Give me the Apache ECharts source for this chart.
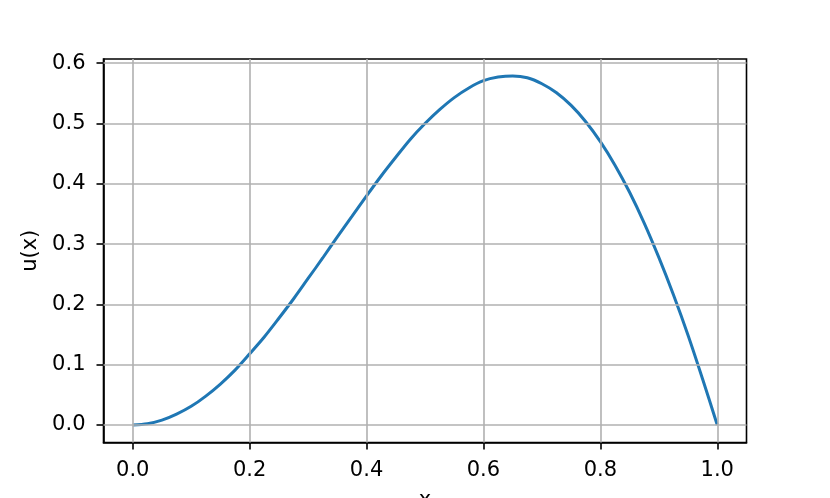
<!DOCTYPE html>
<html>
<head>
<meta charset="utf-8">
<script src="https://cdn.jsdelivr.net/npm/echarts@6/dist/echarts.min.js"></script>
<style>
  html, body { margin: 0; padding: 0; background: #ffffff; }
  #chart { width: 830px; height: 498px; }
</style>
</head>
<body>
<div id="chart"></div>
<script>
// values
const xValues = [0, 0.025, 0.05, 0.075, 0.1, 0.125, 0.15, 0.175, 0.2, 0.225,
                 0.25, 0.275, 0.3, 0.325, 0.35, 0.375, 0.4, 0.425, 0.45, 0.475,
                 0.5, 0.525, 0.55, 0.575, 0.6, 0.625, 0.65, 0.675, 0.7, 0.725,
                 0.75, 0.775, 0.8, 0.825, 0.85, 0.875, 0.9, 0.925, 0.95, 0.975, 1.0]
const uValues = [0, 0.002, 0.008, 0.018, 0.031, 0.048, 0.068, 0.091, 0.118, 0.146,
                 0.177, 0.209, 0.243, 0.277, 0.312, 0.346, 0.380, 0.413, 0.444, 0.474,
                 0.500, 0.523, 0.543, 0.559, 0.571, 0.577, 0.579, 0.576, 0.566, 0.551,
                 0.530, 0.503, 0.470, 0.431, 0.386, 0.335, 0.278, 0.216, 0.149, 0.076, 0]
const xTicks = [0, 0.2, 0.4, 0.6, 0.8, 1.0]
const yTicks = [0, 0.1, 0.2, 0.3, 0.4, 0.5, 0.6]

const font = 'DejaVu Sans'
const gridColor = '#b0b0b0'

const chart = echarts.init(document.getElementById('chart'))

const axisCommon = {
  type: 'value',
  axisLine: { show: true, onZero: false, lineStyle: { color: '#000', width: 1.6 } },
  axisTick: { show: true, inside: false, length: 7, lineStyle: { color: '#000', width: 1.6 } },
  splitLine: { show: false },
  nameTextStyle: { color: '#000', fontFamily: font, fontSize: 21 }
}

const option = {
  animation: false,
  backgroundColor: '#ffffff',
  grid: {
    left: 103.5, right: 83.5, top: 59, bottom: 55.5,
    outerBoundsMode: 'none',
    show: true, borderColor: '#000', borderWidth: 1.6, backgroundColor: '#ffffff'
  },
  xAxis: {
    ...axisCommon,
    min: -0.05,
    max: 1.05,
    name: 'x',
    nameLocation: 'middle',
    nameGap: 48,
    axisTick: { ...axisCommon.axisTick, customValues: xTicks },
    axisLabel: {
      customValues: xTicks,
      margin: 18,
      color: '#000', fontFamily: font, fontSize: 21,
      formatter: v => v.toFixed(1)
    }
  },
  yAxis: {
    ...axisCommon,
    min: -0.029,
    max: 0.607,
    name: 'u(x)',
    nameLocation: 'middle',
    nameGap: 60,
    axisTick: { ...axisCommon.axisTick, customValues: yTicks },
    axisLabel: {
      customValues: yTicks,
      margin: 18,
      color: '#000', fontFamily: font, fontSize: 21,
      formatter: v => v.toFixed(1)
    }
  },
  series: [
    {
      // grid lines, placed at the tick values through the axes
      type: 'line',
      data: [],
      z: 1,
      silent: true,
      markLine: {
        silent: true,
        symbol: 'none',
        label: { show: false },
        animation: false,
        lineStyle: { color: gridColor, width: 1.6, type: 'solid' },
        data: [
          ...xTicks.map(v => ({ xAxis: v })),
          ...yTicks.map(v => ({ yAxis: v }))
        ]
      }
    },
    {
      name: 'u',
      type: 'line',
      z: 3,
      data: xValues.map((x, i) => [x, uValues[i]]),
      smooth: 0.3,
      showSymbol: false,
      lineStyle: { color: '#1f77b4', width: 3 }
    }
  ]
}

chart.setOption(option)
</script>
</body>
</html>
